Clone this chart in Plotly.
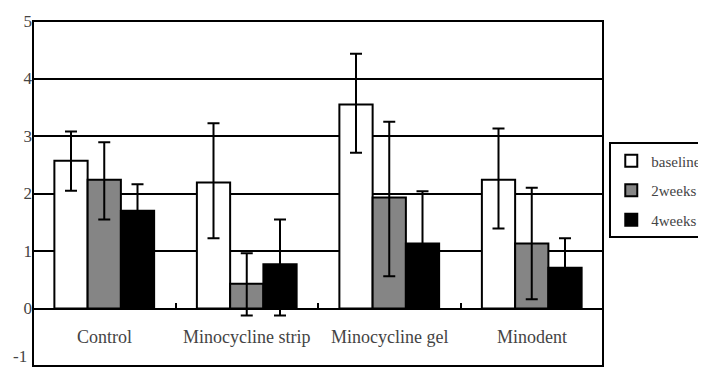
import plotly.graph_objects as go

categories = ["Control", "Minocycline strip", "Minocycline gel", "Minodent"]
series_names = ["baseline", "2weeks", "4weeks"]
baseline = [2.57, 2.19, 3.55, 2.24]
baseline_err_plus = [0.51, 1.03, 0.88, 0.89]
baseline_err_minus = [0.52, 0.97, 0.84, 0.85]
weeks2 = [2.24, 0.43, 1.93, 1.13]
weeks2_err_plus = [0.65, 0.53, 1.32, 0.97]
weeks2_err_minus = [0.69, 0.55, 1.37, 0.97]
weeks4 = [1.70, 0.77, 1.13, 0.71]
weeks4_err_plus = [0.46, 0.78, 0.91, 0.51]
weeks4_err_minus = [0.46, 0.89, 0.91, 0.51]
y_ticks = [-1, 0, 1, 2, 3, 4, 5]

values = [baseline, weeks2, weeks4]
err_plus = [baseline_err_plus, weeks2_err_plus, weeks4_err_plus]
err_minus = [baseline_err_minus, weeks2_err_minus, weeks4_err_minus]
colors = ["#ffffff", "#858585", "#000000"]

font_family = "Liberation Serif"

fig = go.Figure()
for name, v, ep, em, c in zip(series_names, values, err_plus, err_minus, colors):
    fig.add_trace(go.Bar(
        name=name, x=categories, y=v, legendgroup=name,
        marker=dict(color=c, line=dict(color="#000000", width=2)),
        error_y=dict(type="data", array=ep, arrayminus=em, visible=True,
                     color="#000000", thickness=2, width=6),
    ))

for cat in categories:
    fig.add_annotation(x=cat, y=-0.5, xref="x", yref="y", text=cat,
                       showarrow=False, font=dict(family=font_family, size=18, color="#444444"))

# lowest tick label drawn as annotation so it stays visible at the figure edge
fig.add_annotation(x=0, y=min(y_ticks), xref="paper", yref="y", text=str(min(y_ticks)),
                   xanchor="right", yanchor="bottom", xshift=-4, yshift=-2, showarrow=False,
                   font=dict(family=font_family, size=17, color="#444444"))

fig.add_shape(type="rect", xref="paper", yref="paper", x0=0, x1=1, y0=0, y1=1,
              line=dict(color="#000000", width=2), layer="above")

fig.update_layout(
    width=698, height=361,
    margin=dict(l=25, r=103, t=13, b=3, autoexpand=False),
    paper_bgcolor="#ffffff", plot_bgcolor="#ffffff",
    barmode="group", bargap=0.3, bargroupgap=0,
    font=dict(family=font_family, size=17, color="#444444"),
    showlegend=True,
    legend=dict(x=1.011, y=0.648, xanchor="left", yanchor="top",
                bordercolor="#000000", borderwidth=2, bgcolor="#ffffff",
                font=dict(family=font_family, size=15, color="#444444"),
                itemwidth=30, tracegroupgap=7),
    xaxis=dict(anchor="free", position=1/6, showline=True, linecolor="#000000", linewidth=2,
               ticks="inside", ticklen=5, tickwidth=2, tickcolor="#000000",
               tickson="boundaries", showticklabels=False, showgrid=False, zeroline=False),
    yaxis=dict(range=[-1, 5], tickvals=[t for t in y_ticks if t != min(y_ticks)],
               showgrid=True, gridcolor="#000000", gridwidth=2,
               zeroline=False, showline=False, ticks="", ticklen=0,
               tickfont=dict(family=font_family, size=17, color="#444444")),
)

fig.write_html("out.html")
